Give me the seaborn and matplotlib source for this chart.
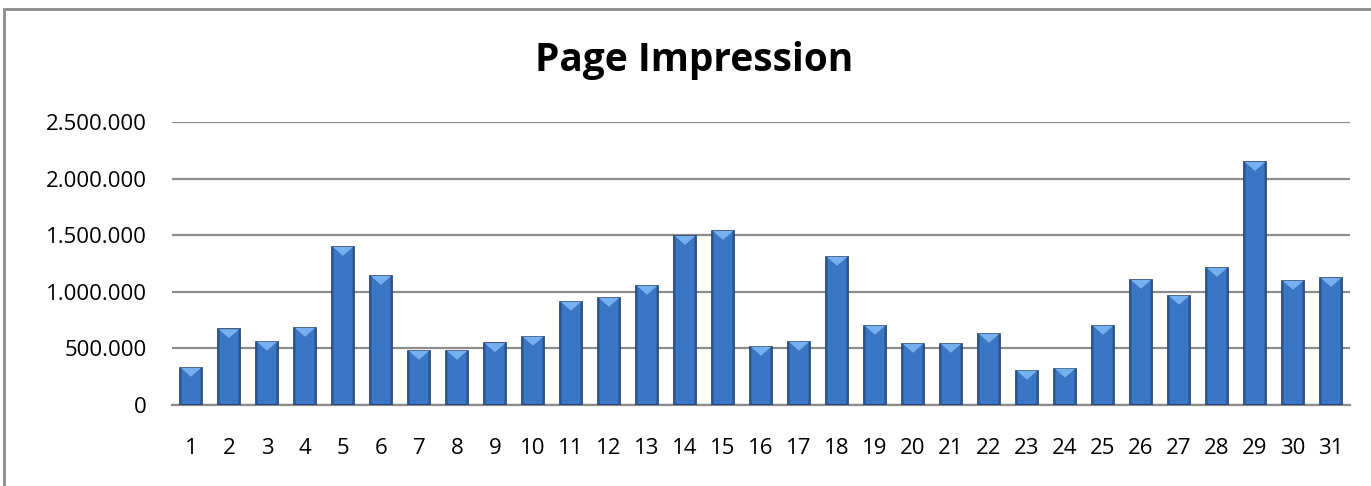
import matplotlib
matplotlib.use("Agg")
import matplotlib.pyplot as plt
import seaborn as sns
from matplotlib.ticker import FuncFormatter
from matplotlib.patches import Rectangle, Polygon

days = [str(d) for d in range(1, 32)]
impressions = [329000, 670000, 559000, 682000, 1397000, 1141000, 479000, 479000,
               547000, 603000, 912000, 947000, 1053000, 1494000, 1538000, 515000,
               559000, 1309000, 700000, 541000, 541000, 629000, 303000, 321000,
               700000, 1106000, 965000, 1212000, 2147000, 1097000, 1123000]
y_ticks = [0, 500000, 1000000, 1500000, 2000000, 2500000]

sns.set_style("white")
plt.rcParams['font.family'] = ['Open Sans', 'DejaVu Sans']
plt.rcParams['text.color'] = 'black'

fig = plt.figure(figsize=(13.71, 4.86), dpi=100)
ax = fig.add_axes([172 / 1371, 81 / 486, 1178 / 1371, 283 / 486])

sns.barplot(x=days, y=impressions, color="#3a76c4", width=0.6, saturation=1,
            edgecolor="#1f3c66", linewidth=1.2, ax=ax, zorder=3)

ax.set_ylim(0, 2500000)
ax.set_xlim(-0.5, 30.5)

# bevel look: light chevron on top of each bar
depth = 2500000 / 283 * 9
for bar in list(ax.patches):
    x0, w, top = bar.get_x(), bar.get_width(), bar.get_height()
    ax.add_patch(Polygon([(x0 + 0.03, top), (x0 + w - 0.03, top), (x0 + w / 2, top - depth)],
                         closed=True, facecolor="#76b0ee", edgecolor="none", zorder=4))
    ax.add_patch(Rectangle((x0, 0), w * 0.12, top, facecolor="#2b5c9c",
                           edgecolor="none", alpha=0.6, zorder=3.5))
    ax.add_patch(Rectangle((x0 + w * 0.88, 0), w * 0.12, top, facecolor="#2b5c9c",
                           edgecolor="none", alpha=0.6, zorder=3.5))

ax.set_yticks(y_ticks)
ax.yaxis.set_major_formatter(FuncFormatter(lambda v, p: f"{int(v):,}".replace(",", ".")))
ax.grid(axis="y", color="#8c8c8c", linewidth=1.6, zorder=0)
ax.set_axisbelow(True)
for s in ["top", "right", "left"]:
    ax.spines[s].set_visible(False)
ax.spines["bottom"].set_color("#8c8c8c")
ax.spines["bottom"].set_linewidth(1.6)
ax.tick_params(axis="x", length=0, pad=24, labelsize=16, labelcolor="black")
ax.tick_params(axis="y", length=0, pad=18, labelsize=16, labelcolor="black")
ax.set_xlabel("")
ax.set_ylabel("")

fig.text(694 / 1371, 1 - 61 / 486, "Page Impression", ha="center", va="center",
         fontsize=28, fontweight="bold", color="black")

fig.patches.append(Rectangle((4 / 1371, -0.1), 1.2, 1 - 9 / 486 + 0.1,
                             transform=fig.transFigure, fill=False,
                             edgecolor="#8c8c8c", linewidth=2))

fig.savefig("out.png", dpi=100)
